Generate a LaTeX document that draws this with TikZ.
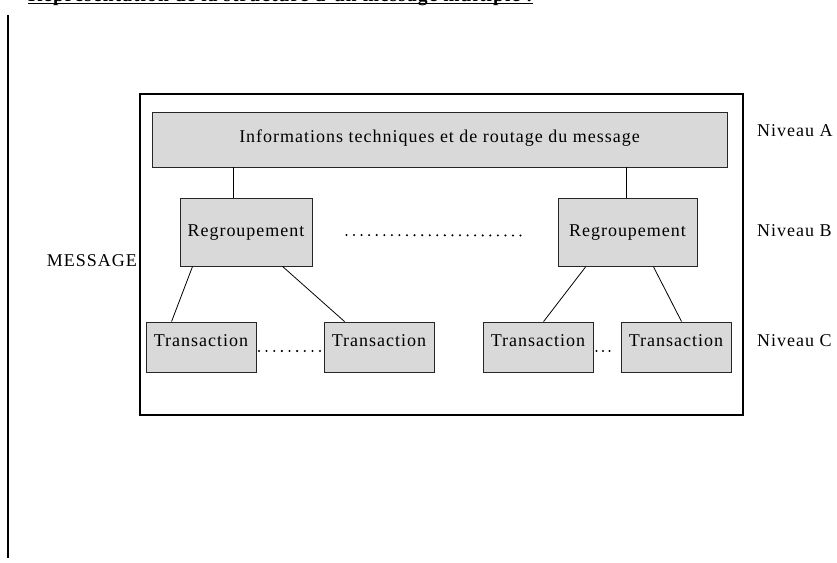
\documentclass[tikz,border=0pt]{standalone}
\usepackage{fontspec}
\usetikzlibrary{calc}
\setmainfont{Liberation Serif}[LetterSpace=5.5]
\definecolor{boxgray}{RGB}{217,217,217}
% row of #3+1 evenly spaced dots from coordinate #1 to coordinate #2
\newcommand\dotsbetween[3]{%
  \foreach \k in {0,...,#3}{\fill ($(#1)!\k/#3!(#2)$) circle (1.15pt);}}
\begin{document}
\begin{tikzpicture}[x=1pt,y=-1pt,
  every node/.style={font=\fontsize{18}{20}\selectfont, inner sep=0pt},
  box/.style={draw=black!85, line width=0.9pt, fill=boxgray},
  headbox/.style={box, minimum width=575pt, minimum height=55pt, text height=12.5pt, text depth=6pt},
  groupbox/.style={box, minimum height=68pt, text height=12.5pt, text depth=4.5pt},
  transbox/.style={box, minimum width=110pt, minimum height=50pt, text height=12.5pt, text depth=14.5pt},
  frame/.style={draw=black, line width=2pt},
  conn/.style={draw=black, line width=0.8pt},
  level/.style={anchor=base west}]
\useasboundingbox (0,0) rectangle (837,562);

% title (its upper part lies above the page)
\node[font=\fontsize{19.5}{22}\selectfont\bfseries, anchor=base west] (title) at (28,1.6)
  {Représentation de la structure d'un message multiple :};
\draw[line width=1.4pt] ([yshift=-2.1pt]title.base west) -- ([yshift=-2.1pt]title.base east);

% margin rule
\draw[line width=2pt] (7.5,15) -- (7.5,558);

% message frame
\node[frame, minimum width=603pt, minimum height=321pt] (msg) at (441.5,254.5) {};
\node[anchor=base east] (msglabel) at (137,266) {MESSAGE};

% level A
\node[headbox] (head) at (439.5,139.5) {Informations techniques et de routage du message};

% level B
\node[groupbox, minimum width=132pt] (reg1) at (246,232) {Regroupement};
\node[groupbox, minimum width=139pt] (reg2) at (627.5,232.5) {Regroupement};

% level C
\node[transbox] (t1) at (201,347) {Transaction};
\node[transbox] (t2) at (379,347) {Transaction};
\node[transbox] (t3) at (538,347) {Transaction};
\node[transbox] (t4) at (676,347) {Transaction};

% level labels
\node[level] (nA) at (757,136) {Niveau A};
\node[level] (nB) at (757,236) {Niveau B};
\node[level] (nC) at (757,346) {Niveau C};

% links from the header
\coordinate (c1) at ([xshift=54pt]reg1.north west);
\coordinate (c2) at ([xshift=69pt]reg2.north west);
\draw[conn] (c1 |- head.south) -- (c1);
\draw[conn] (c2 |- head.south) -- (c2);

% links to the transactions
\draw[conn] ([xshift=13pt]reg1.south west) -- ([xshift=26pt]t1.north west);
\draw[conn] ([xshift=103pt]reg1.south west) -- ([xshift=21pt]t2.north west);
\draw[conn] ([xshift=28pt]reg2.south west) -- ([xshift=61pt]t3.north west);
\draw[conn] ([xshift=96pt]reg2.south west) -- ([xshift=61pt]t4.north west);

% ellipses
\coordinate (gA) at ([xshift=34pt,yshift=-3pt]reg1.east);
\coordinate (gB) at ([xshift=-37pt,yshift=-3pt]reg2.west);
\coordinate (tA) at ([xshift=2.5pt,yshift=-4pt]t1.east);
\coordinate (tB) at ([xshift=-3.5pt,yshift=-4pt]t2.west);
\coordinate (tC) at ([xshift=3pt,yshift=-4pt]t3.east);
\coordinate (tD) at ([xshift=-11pt,yshift=-4pt]t4.west);
\dotsbetween{gA}{gB}{23}
\dotsbetween{tA}{tB}{8}
\dotsbetween{tC}{tD}{2}
\end{tikzpicture}
\end{document}
